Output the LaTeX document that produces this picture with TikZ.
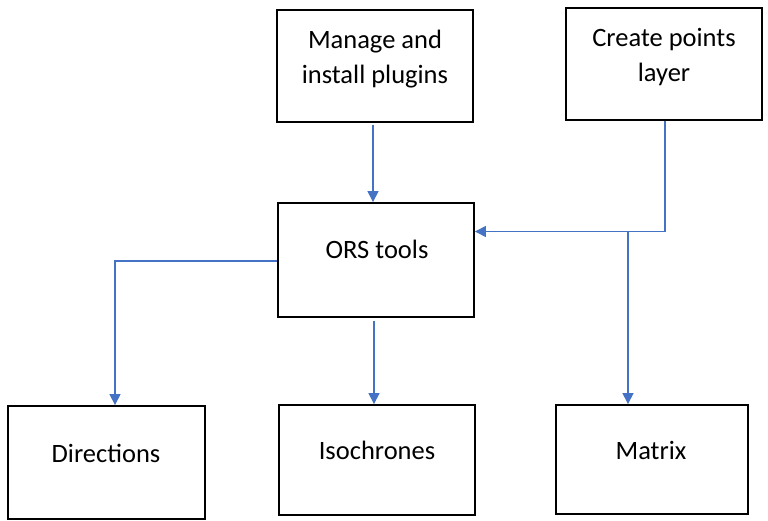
\documentclass[tikz,border=0pt]{standalone}
\usepackage{fontspec}
\setmainfont{Carlito}
\usetikzlibrary{arrows.meta}
\definecolor{linkblue}{HTML}{4472C4}
\tikzset{
  box/.style={draw=black, line width=1.8pt, rectangle, minimum width=196pt, minimum height=112pt, inner sep=0pt},
  lbl/.style={font=\fontsize{26.5}{35}\selectfont, align=center, text height=18pt, text depth=6pt, inner sep=0pt},
  conn/.style={draw=linkblue, line width=1.1pt, -{Triangle[length=11pt,width=11pt]}},
  plain/.style={draw=linkblue, line width=1.1pt}
}
\begin{document}
\begin{tikzpicture}[x=1pt,y=-1pt]
\useasboundingbox (0,0) rectangle (768,521);
% boxes
\node[box] (manage) at (375,66) {};
\node[box] (create) at (664,64) {};
\node[box, minimum height=114pt] (ors) at (376,260) {};
\node[box, minimum width=197pt, minimum height=113pt] (dir) at (106.5,462.5) {};
\node[box, minimum height=110pt] (iso) at (377,460) {};
\node[box, minimum width=192pt, minimum height=109pt] (matrix) at (652,459.5) {};
% labels
\node[lbl] (tmanage) at (375,78) {Manage and\\install plugins};
\node[lbl] (tcreate) at (664,76) {Create points\\layer};
\node[lbl] (tors) at (377,253) {ORS tools};
\node[lbl] (tdir) at (106,456.3) {Directions};
\node[lbl] (tiso) at (377,453) {Isochrones};
\node[lbl] (tmatrix) at (651,453) {Matrix};
% connectors
\coordinate (j) at (628,231.5);
\coordinate (jc) at (665,231.5);
\coordinate (dl) at (115,261);
\draw[conn] ([xshift=-2pt,yshift=-2pt]manage.south) -- ([xshift=-2pt]manage.south |- ors.north);
\draw[conn] (create.south -| jc) -- (jc) -- (ors.east |- jc);
\draw[conn] (j) -- (j |- matrix.north);
\draw[conn] (ors.west |- dl) -- (dl) -- (dl |- dir.north);
\draw[conn] ([xshift=-2pt,yshift=-3pt]ors.south) -- ([xshift=-2pt]ors.south |- iso.north);
\end{tikzpicture}
\end{document}
